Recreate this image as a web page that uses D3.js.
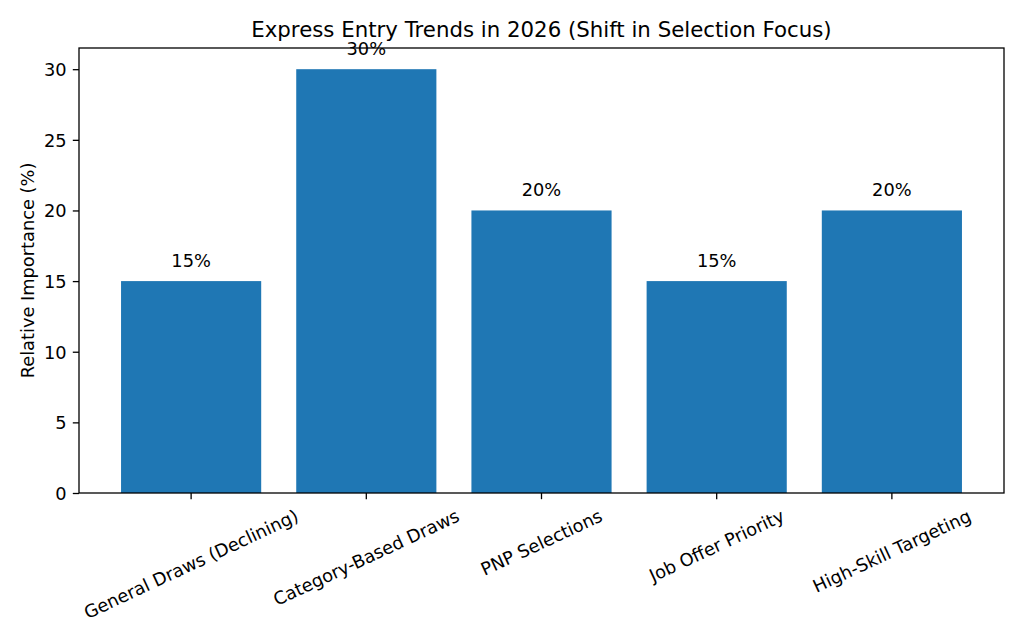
<!DOCTYPE html>
<html>
<head>
<meta charset="utf-8">
<script src="https://cdn.jsdelivr.net/npm/d3@7"></script>
<style>
  body { margin: 0; background: #fff; }
  text { font-family: "DejaVu Sans", sans-serif; fill: #000; }
</style>
</head>
<body>
<svg id="chart" width="1024" height="640"></svg>
<script>
const categories = ["General Draws (Declining)", "Category-Based Draws", "PNP Selections", "Job Offer Priority", "High-Skill Targeting"];
const values = [15, 30, 20, 15, 20];
const yTicks = [0, 5, 10, 15, 20, 25, 30];
const titleText = "Express Entry Trends in 2026 (Shift in Selection Focus)";
const yLabelText = "Relative Importance (%)";

const svg = d3.select("#chart");
const L = 79, R = 1004, T = 48, B = 493;
const fs = 17.8;
const tick = 6.2;

const x = d3.scaleLinear().domain([-0.64, categories.length - 1 + 0.64]).range([L, R]);
const y = d3.scaleLinear().domain([0, 31.5]).range([B, T]);
const bw = x(0.8) - x(0);

svg.append("rect").attr("width", 1024).attr("height", 640).attr("fill", "#fff");

svg.selectAll("rect.bar").data(values).enter().append("rect")
  .attr("class", "bar")
  .attr("x", (d, i) => x(i) - bw / 2)
  .attr("width", bw)
  .attr("y", d => y(d))
  .attr("height", d => y(0) - y(d))
  .attr("fill", "#1f77b4");

// value labels
svg.selectAll("text.val").data(values).enter().append("text")
  .attr("class", "val")
  .attr("x", (d, i) => x(i))
  .attr("y", d => y(d + 1))
  .attr("text-anchor", "middle")
  .attr("font-size", fs)
  .text(d => d + "%");

// frame
svg.append("rect").attr("x", L).attr("y", T).attr("width", R - L).attr("height", B - T)
  .attr("fill", "none").attr("stroke", "#000").attr("stroke-width", 1.3);

// y axis
const yAxis = d3.axisLeft(y).tickValues(yTicks).tickSize(tick).tickPadding(tick).tickFormat(d3.format("d"));
const gy = svg.append("g").attr("transform", `translate(${L},0)`).call(yAxis);
gy.select(".domain").remove();
gy.selectAll("line").attr("stroke", "#000").attr("stroke-width", 1.3);
gy.selectAll("text").attr("font-size", fs).attr("font-family", "DejaVu Sans").attr("fill", "#000").attr("dy", "0.36em");

// x axis ticks
const gx = svg.append("g");
gx.selectAll("line").data(categories).enter().append("line")
  .attr("x1", (d, i) => x(i)).attr("x2", (d, i) => x(i))
  .attr("y1", B).attr("y2", B + tick).attr("stroke", "#000").attr("stroke-width", 1.3);

const ang = 25 * Math.PI / 180;
const asc = 0.928 * fs, desc = 0.236 * fs, h = asc + desc;
const top0 = B + tick + tick;
categories.forEach((c, i) => {
  const g = gx.append("g");
  const t = g.append("text").attr("font-size", fs).attr("text-anchor", "middle").text(c);
  const w = t.node().getComputedTextLength();
  const H = w * Math.sin(ang) + h * Math.cos(ang);
  g.attr("transform", `translate(${x(i)},${top0 + H / 2}) rotate(-25)`);
  t.attr("y", (asc - desc) / 2);
});

// title
svg.append("text").attr("x", (L + R) / 2).attr("y", 37).attr("text-anchor", "middle")
  .attr("font-size", 21.3).text(titleText);

// y label
svg.append("text").attr("transform", `translate(34,${(T + B) / 2}) rotate(-90)`)
  .attr("text-anchor", "middle").attr("font-size", fs).text(yLabelText);
</script>
</body>
</html>
